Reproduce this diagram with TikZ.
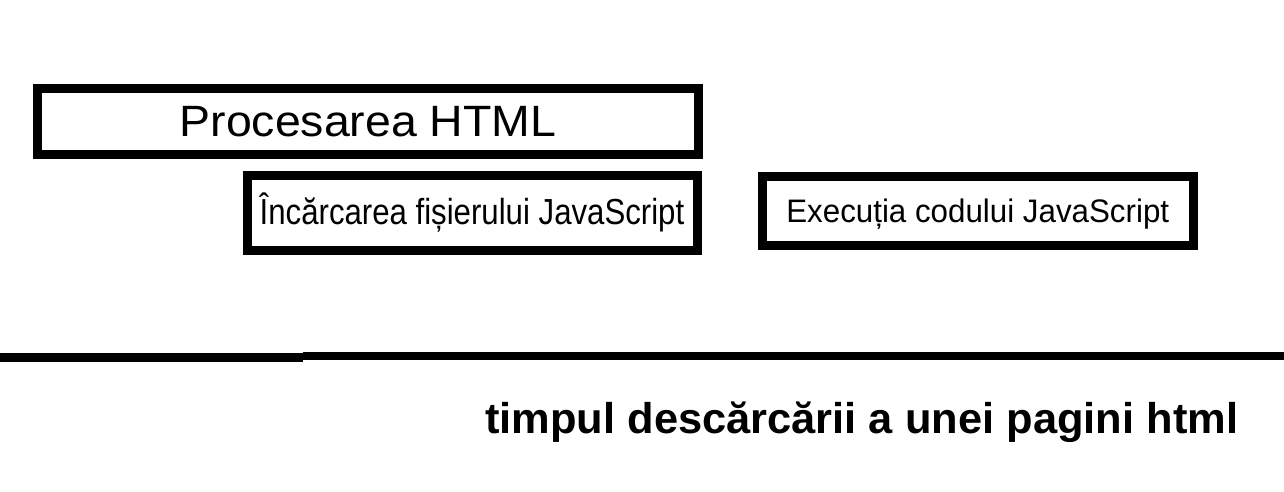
\documentclass[tikz,border=0pt]{standalone}
\usepackage{fontspec}
\setmainfont{Liberation Sans}
\usetikzlibrary{positioning}
\tikzset{
  etapa/.style={draw, line width=9pt, inner sep=0pt, align=center},
  axa/.style={line width=8pt},
}
\begin{document}
\begin{tikzpicture}[x=1pt,y=-1pt]
\useasboundingbox (0,0) rectangle (1284,491);
% Etapele incarcarii paginii
\node[etapa, minimum width=661pt, minimum height=66.5pt] (html) at (368,121.25)
  {\fontsize{43}{50}\selectfont\scalebox{1.08}[1.02]{Procesarea HTML}};
\node[etapa, minimum width=450pt, minimum height=74.5pt] (incarcare) at (472,212.75)
  {\fontsize{31.5}{36}\selectfont\scalebox{0.99}[1.15]{Încărcarea fișierului JavaScript}};
\node[etapa, minimum width=431.5pt, minimum height=69pt] (executie) at (977.75,210.5)
  {\fontsize{31}{36}\selectfont\raisebox{-4pt}[\height][\depth]{\scalebox{1.01}[1.05]{Execuția codului JavaScript}}};
% Axa timpului
\coordinate (t0) at (0,357.5);
\coordinate (t1) at (303,357.5);
\coordinate (t2) at (303,356);
\coordinate (t3) at (1284,356);
\draw[axa, line width=9.5pt] (t0) -- (t1);
\draw[axa] (t2) -- (t3);
\node[anchor=base west, inner sep=0pt] (timp) at (485,433)
  {\fontsize{43}{50}\selectfont\bfseries\scalebox{1.01}[1]{timpul descărcării a unei pagini html}};
\end{tikzpicture}
\end{document}
